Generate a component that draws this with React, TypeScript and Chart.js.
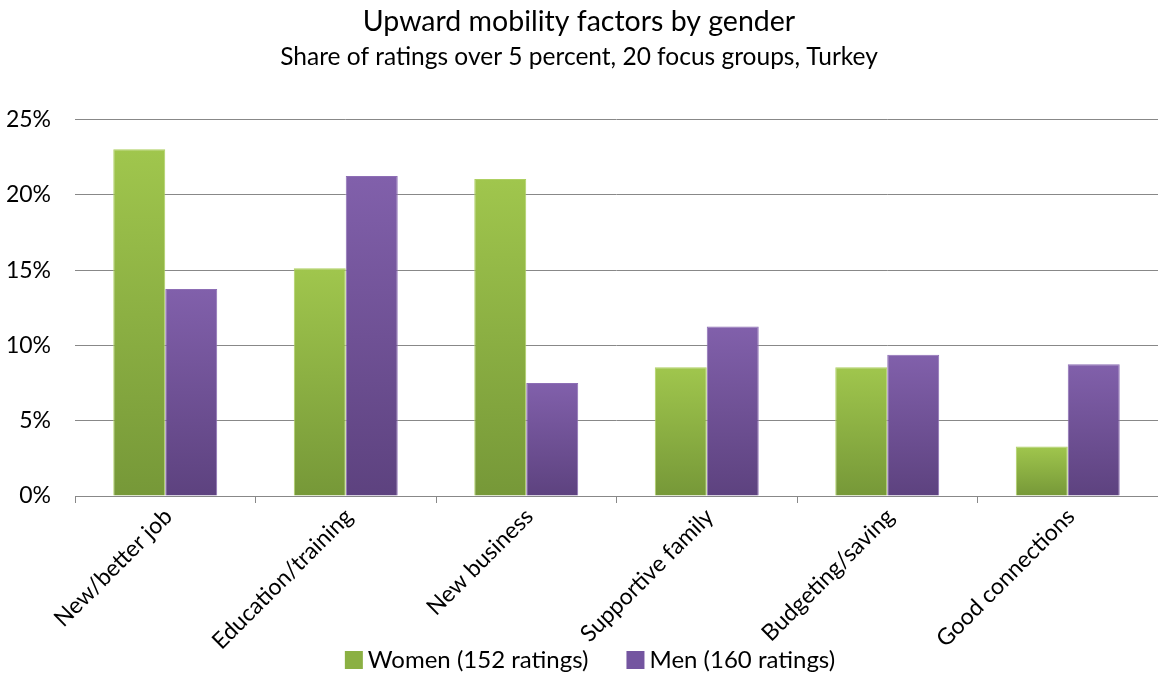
import React, { useEffect, useRef } from "react";
import { Chart, registerables } from "chart.js";

Chart.register(...registerables);

const categories = [
  "New/better job",
  "Education/training",
  "New business",
  "Supportive family",
  "Budgeting/saving",
  "Good connections",
];
const women = [23.03, 15.13, 21.05, 8.55, 8.55, 3.29];
const men = [13.75, 21.25, 7.5, 11.25, 9.375, 8.75];
const seriesNames = ["Women (152 ratings)", "Men (160 ratings)"];
const legendColors = ["#8bb043", "#7455a0"];
const yMax = 25;
const yStep = 5;

const FONT = "Lato";

const gradient = (top: string, bottom: string) => (ctx: any) => {
  const chart = ctx.chart;
  if (!chart.chartArea || ctx.type !== "data") return top;
  const y = chart.scales.y;
  const y0 = y.getPixelForValue(ctx.raw);
  const y1 = y.getPixelForValue(0);
  const g = chart.ctx.createLinearGradient(0, y0, 0, y1);
  g.addColorStop(0, top);
  g.addColorStop(1, bottom);
  return g;
};

// Legend drawn below the axis labels, overlapping their area like the original.
const bottomLegend = {
  id: "bottomLegend",
  afterDraw(chart: any) {
    const ctx = chart.ctx;
    const box = 18;
    const gapText = 5;
    const gapItem = 38;
    const cy = 660;
    const centerX = 590;
    ctx.save();
    ctx.font = `24px ${FONT}`;
    const widths = seriesNames.map((t) => ctx.measureText(t).width);
    const total = widths.reduce((a, w) => a + box + gapText + w, 0) + gapItem * (seriesNames.length - 1);
    let x = centerX - total / 2;
    ctx.textBaseline = "middle";
    ctx.textAlign = "left";
    seriesNames.forEach((t, i) => {
      ctx.fillStyle = legendColors[i];
      ctx.fillRect(x, cy - box / 2, box, box);
      x += box + gapText;
      ctx.fillStyle = "#000";
      ctx.fillText(t, x, cy);
      x += widths[i] + gapItem;
    });
    ctx.restore();
  },
};

export default function App() {
  const ref = useRef<HTMLCanvasElement>(null);
  useEffect(() => {
    if (!ref.current) return;
    const chart = new Chart(ref.current, {
      type: "bar",
      data: {
        labels: categories,
        datasets: [
          {
            label: seriesNames[0],
            data: women,
            backgroundColor: gradient("#a0c64d", "#769838"),
            borderColor: "#aed062",
            borderWidth: 1,
            barPercentage: 1,
            categoryPercentage: 0.576,
          },
          {
            label: seriesNames[1],
            data: men,
            backgroundColor: gradient("#8160ab", "#5d427f"),
            borderColor: "#8d6eb5",
            borderWidth: 1,
            barPercentage: 1,
            categoryPercentage: 0.576,
          },
        ],
      },
      plugins: [bottomLegend],
      options: {
        animation: false,
        responsive: false,
        layout: { padding: { top: 5, right: 0, bottom: 0, left: 0 } },
        plugins: {
          title: {
            display: true,
            text: "Upward mobility factors by gender",
            color: "#000",
            font: { family: FONT, size: 28.5, weight: "normal" },
            padding: { top: 0, bottom: 3 },
          },
          subtitle: {
            display: true,
            text: "Share of ratings over 5 percent, 20 focus groups, Turkey",
            color: "#000",
            font: { family: FONT, size: 24.5, weight: "normal" },
            padding: { top: 0, bottom: 48 },
          },
          legend: { display: false },
          tooltip: { enabled: false },
        },
        scales: {
          x: {
            grid: {
              display: true,
              drawOnChartArea: false,
              drawTicks: true,
              tickLength: 7,
              color: "#888",
              offset: true,
            },
            border: { display: true, color: "#888", width: 1 },
            ticks: {
              color: "#000",
              font: { family: FONT, size: 23 },
              minRotation: 45,
              maxRotation: 45,
              padding: 0,
              labelOffset: 3,
            },
            afterFit: (s: any) => {
              s.height = 179;
            },
          },
          y: {
            min: 0,
            max: yMax,
            ticks: {
              stepSize: yStep,
              color: "#000",
              font: { family: FONT, size: 23 },
              padding: 24,
              callback: (v: any) => v + "%",
            },
            grid: { color: "#888", drawTicks: false, lineWidth: 1 },
            border: { display: false },
            afterFit: (s: any) => {
              s.width = 75;
            },
          },
        },
      },
    });
    return () => chart.destroy();
  }, []);
  return (
    <div style={{ position: "absolute", left: 0, top: 0, width: 1158, height: 675, background: "#fff" }}>
      <canvas ref={ref} width={1158} height={675} style={{ width: 1158, height: 675 }} />
    </div>
  );
}
